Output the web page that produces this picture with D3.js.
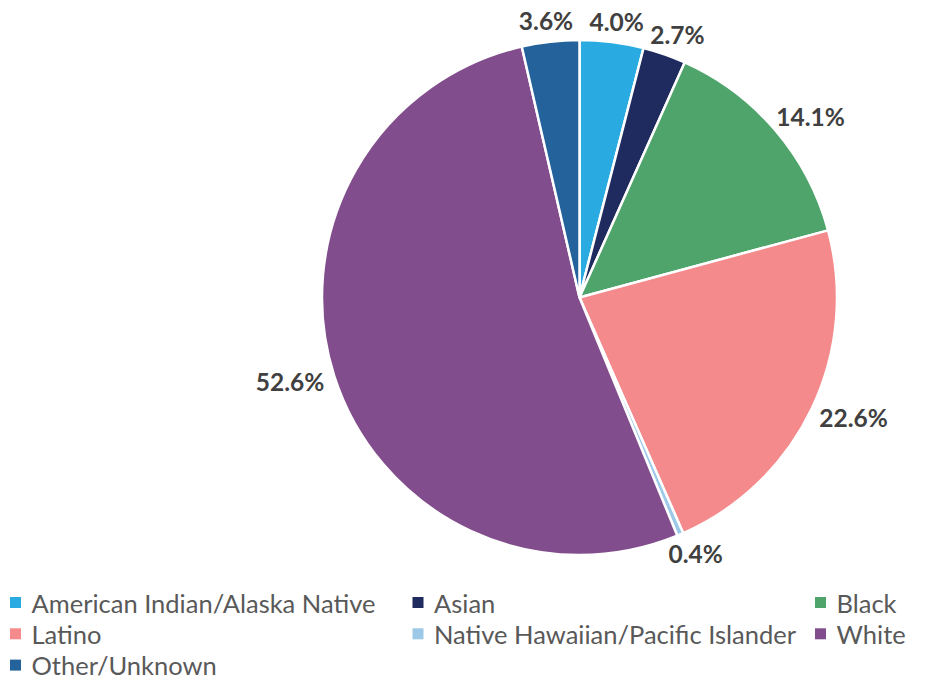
<!DOCTYPE html>
<html><head><meta charset="utf-8">
<script src="https://cdn.jsdelivr.net/npm/d3@7"></script>
<style>body{margin:0;background:#fff}</style>
</head><body>
<svg id="c" width="926" height="682"></svg>
<script>
const categories = ["American Indian/Alaska Native","Asian","Black","Latino","Native Hawaiian/Pacific Islander","White","Other/Unknown"];
const values = [4.0, 2.7, 14.1, 22.6, 0.4, 52.6, 3.6];
const colors = ["#29ABE2","#1F2A5E","#4EA46A","#F48A8C","#9DC9E8","#824D8D","#23629B"];

const svg = d3.select("#c");
const cx = 579.5, cy = 297.5, r = 257.5;

const pie = d3.pie().sort(null).value(d => d)(values);
const arc = d3.arc().innerRadius(0).outerRadius(r);
const g = svg.append("g").attr("transform", `translate(${cx},${cy})`);
g.selectAll("path").data(pie).join("path")
  .attr("d", arc)
  .attr("fill", (d,i) => colors[i])
  .attr("stroke", "#fff").attr("stroke-width", 2.5).attr("stroke-linejoin","round");

const pad = 12, lblSize = 24.5;
g.selectAll("text.lbl").data(pie).join("text")
  .attr("class","lbl")
  .attr("font-family","Lato, 'Open Sans', sans-serif")
  .attr("font-weight","bold").attr("font-size", lblSize)
  .attr("fill","#404040")
  .attr("text-anchor","middle").attr("dominant-baseline","central")
  .text(d => d.value.toFixed(1) + "%")
  .each(function(d){
    const a = (d.startAngle + d.endAngle)/2;
    const ux = Math.sin(a), uy = -Math.cos(a);
    const w = this.getComputedTextLength();
    const h = lblSize * 0.72;
    const x = ux*(r+pad) + ux*w/2;
    const y = uy*(r+pad) + uy*h/2;
    d3.select(this).attr("x", x).attr("y", y);
  });

// legend
const lg = svg.append("g");
const colW = 402.5, rowH = 31.3, lx0 = 10, ly0 = 602.5;
categories.forEach((c,i) => {
  const col = i % 3, row = Math.floor(i/3);
  const x = lx0 + col*colW, y = ly0 + row*rowH;
  lg.append("rect").attr("x", x).attr("y", y-5.5).attr("width",11).attr("height",11).attr("fill", colors[i]);
  lg.append("text").attr("x", x+21.5).attr("y", y).attr("dominant-baseline","central")
    .attr("font-family","Lato, 'Open Sans', sans-serif").attr("font-size",25.5).attr("fill","#595959")
    .text(c);
});
</script>
</body></html>
